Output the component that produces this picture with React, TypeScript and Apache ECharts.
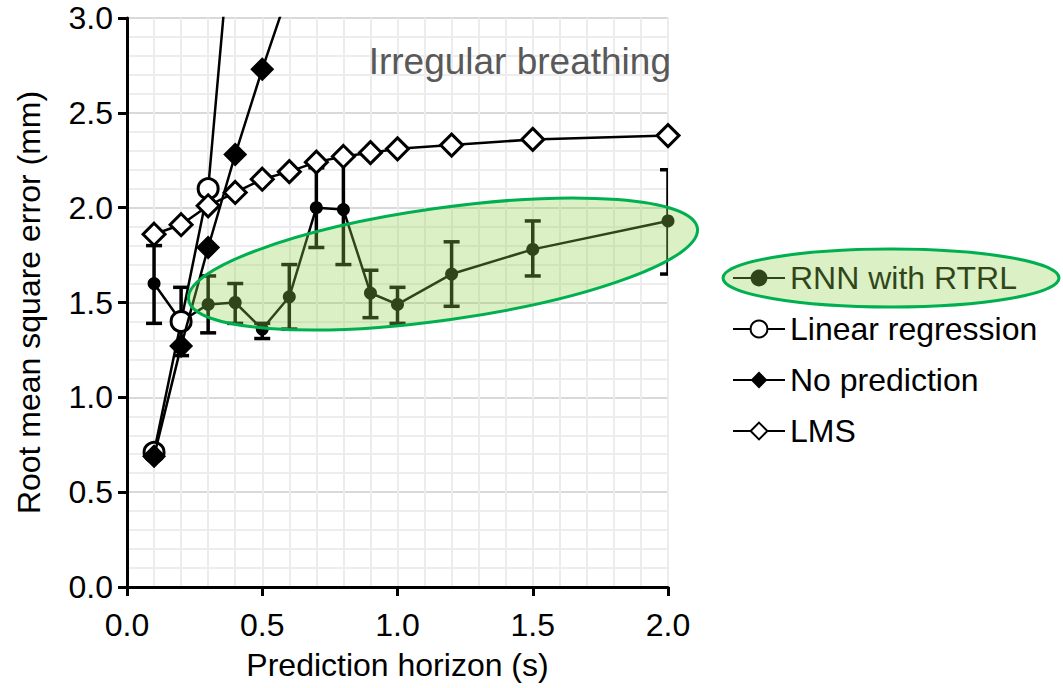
import React, { useEffect, useRef } from "react";
import * as echarts from "echarts";

// ---- Data ----
const horizon = [0.1, 0.2, 0.3, 0.4, 0.5, 0.6, 0.7, 0.8, 0.9, 1.0, 1.2, 1.5, 2.0];
const rnnMean = [1.60, 1.40, 1.49, 1.50, 1.36, 1.53, 2.00, 1.99, 1.55, 1.49, 1.65, 1.78, 1.93];
const rnnLow = [1.39, 1.22, 1.34, 1.39, 1.31, 1.36, 1.79, 1.70, 1.42, 1.39, 1.48, 1.64, 1.65];
const rnnHigh = [1.80, 1.58, 1.64, 1.60, 1.39, 1.70, 2.21, 2.28, 1.67, 1.58, 1.82, 1.93, 2.20];
const linRegX = [0.1, 0.2, 0.3, 0.4];
const linRegY = [0.71, 1.40, 2.10, 3.71];
const noPredX = [0.1, 0.2, 0.3, 0.4, 0.5, 0.6];
const noPredY = [0.69, 1.27, 1.79, 2.28, 2.73, 3.15];
const lmsY = [1.86, 1.91, 2.01, 2.08, 2.15, 2.19, 2.24, 2.27, 2.29, 2.31, 2.33, 2.36, 2.38];
const seriesNames = ["RNN with RTRL", "Linear regression", "No prediction", "LMS"];
const titleText = "Irregular breathing";
const xName = "Prediction horizon (s)";
const yName = "Root mean square error (mm)";

const FONT = "'Liberation Sans', Arial, sans-serif";

export default function App() {
  const ref = useRef<HTMLDivElement>(null);

  useEffect(() => {
    document.body.style.margin = "0";
    if (!ref.current) return;
    const chart = echarts.init(ref.current, null, { renderer: "svg" });

    const pair = (xs: number[], ys: number[]) => xs.map((x, i) => [x, ys[i]]);
    const errData = horizon.map((x, i) => [x, rnnLow[i], rnnHigh[i]]);

    const option: any = {
      animation: false,
      backgroundColor: "#ffffff",
      textStyle: { fontFamily: FONT },
      title: {
        text: titleText,
        right: 392,
        top: 43,
        padding: 0,
        textStyle: { fontSize: 37, fontWeight: "normal", color: "#595959", fontFamily: FONT },
      },
      grid: { left: 127, right: 395, top: 18, bottom: 101, containLabel: false },
      legend: {
        data: seriesNames,
        orient: "vertical",
        left: 732,
        top: 262,
        padding: 0,
        itemWidth: 52,
        itemHeight: 21,
        itemGap: 19,
        textStyle: { fontSize: 32, color: "#000", fontFamily: FONT, lineHeight: 32 },
      },
      xAxis: {
        type: "value",
        min: 0,
        max: 2,
        interval: 0.5,
        name: xName,
        nameLocation: "middle",
        nameGap: 62,
        nameTextStyle: { fontSize: 32, color: "#000", fontFamily: FONT },
        axisLine: { show: true, onZero: false, lineStyle: { color: "#000", width: 3 } },
        axisTick: { show: true, length: 9, lineStyle: { color: "#000", width: 3 } },
        axisLabel: { fontSize: 32, color: "#000", margin: 22, formatter: (v: number) => v.toFixed(1) },
        splitLine: { show: true, lineStyle: { color: "#ececec", width: 2 } },
        minorTick: { show: false, splitNumber: 5 },
        minorSplitLine: { show: true, lineStyle: { color: "#ececec", width: 2 } },
      },
      yAxis: {
        type: "value",
        min: 0,
        max: 3,
        interval: 0.5,
        name: yName,
        nameLocation: "middle",
        nameGap: 82,
        nameTextStyle: { fontSize: 32, color: "#000", fontFamily: FONT },
        axisLine: { show: true, onZero: false, lineStyle: { color: "#000", width: 3 } },
        axisTick: { show: true, length: 9, lineStyle: { color: "#000", width: 3 } },
        axisLabel: { fontSize: 32, color: "#000", margin: 14, formatter: (v: number) => v.toFixed(1) },
        splitLine: { show: true, lineStyle: { color: "#d9d9d9", width: 2 } },
        minorTick: { show: false, splitNumber: 5 },
        minorSplitLine: { show: true, lineStyle: { color: "#ededed", width: 2 } },
      },
      series: [
        {
          name: "errorbars",
          type: "custom",
          z: 1,
          clip: true,
          data: errData,
          encode: { x: 0, y: [1, 2] },
          renderItem: (params: any, api: any) => {
            const x = api.value(0);
            const lo = api.coord([x, api.value(1)]);
            const hi = api.coord([x, api.value(2)]);
            const w = 8;
            const style = { stroke: "#000", lineWidth: 3.5 };
            return {
              type: "group",
              children: [
                { type: "line", shape: { x1: lo[0], y1: lo[1], x2: hi[0], y2: hi[1] }, style },
                { type: "line", shape: { x1: lo[0] - w, y1: lo[1], x2: lo[0] + w, y2: lo[1] }, style },
                { type: "line", shape: { x1: hi[0] - w, y1: hi[1], x2: hi[0] + w, y2: hi[1] }, style },
              ],
            };
          },
        },
        {
          name: seriesNames[0],
          type: "line",
          z: 2,
          data: pair(horizon, rnnMean),
          symbol: "circle",
          symbolSize: 13,
          lineStyle: { color: "#000", width: 2.5 },
          itemStyle: { color: "#000" },
        },
        {
          name: seriesNames[1],
          type: "line",
          z: 3,
          data: pair(linRegX, linRegY),
          symbol: "circle",
          symbolSize: 20,
          lineStyle: { color: "#000", width: 2.5 },
          itemStyle: { color: "#fff", borderColor: "#000", borderWidth: 3 },
        },
        {
          name: seriesNames[2],
          type: "line",
          z: 4,
          data: pair(noPredX, noPredY),
          symbol: "diamond",
          symbolSize: 24,
          lineStyle: { color: "#000", width: 2.5 },
          itemStyle: { color: "#000" },
        },
        {
          name: seriesNames[3],
          type: "line",
          z: 5,
          data: pair(horizon, lmsY),
          symbol: "diamond",
          symbolSize: 22,
          lineStyle: { color: "#000", width: 2.5 },
          itemStyle: { color: "#fff", borderColor: "#000", borderWidth: 3 },
        },
      ],
      graphic: [
        {
          type: "ellipse",
          x: 443,
          y: 264,
          rotation: (8 * Math.PI) / 180,
          shape: { cx: 0, cy: 0, rx: 257, ry: 56 },
          style: { fill: "rgba(146,208,80,0.33)", stroke: "#00b050", lineWidth: 3 },
          z: 100,
          silent: true,
        },
        {
          type: "ellipse",
          x: 891,
          y: 278,
          shape: { cx: 0, cy: 0, rx: 168, ry: 29 },
          style: { fill: "rgba(146,208,80,0.33)", stroke: "#00b050", lineWidth: 3 },
          z: 100,
          silent: true,
        },
      ],
    };

    chart.setOption(option);
    return () => chart.dispose();
  }, []);

  return <div ref={ref} style={{ width: 1063, height: 688 }} />;
}
